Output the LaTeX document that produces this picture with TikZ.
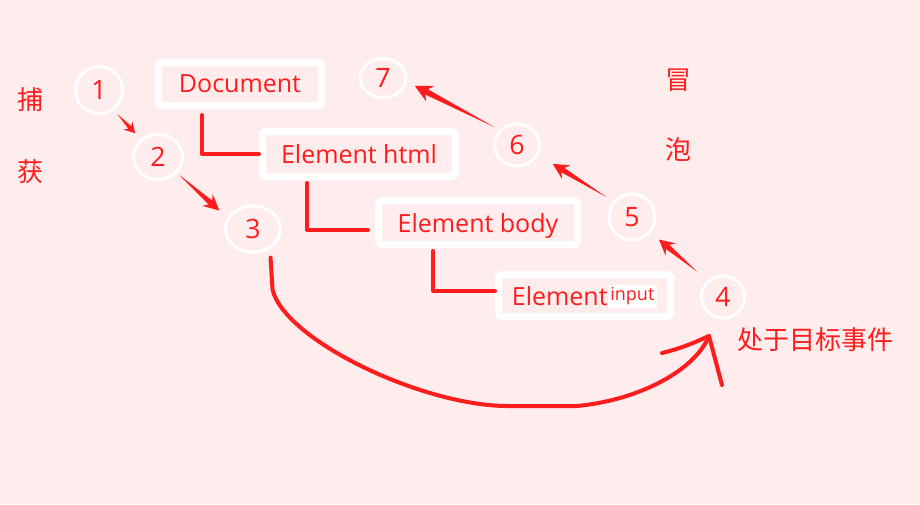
\documentclass[tikz,border=0pt]{standalone}
\usepackage{fontspec}
\setmainfont{Open Sans}
\newfontfamily\cjk{Noto Sans CJK SC}
\usetikzlibrary{shapes.geometric,arrows.meta,calc}

\definecolor{bgpink}{RGB}{255,236,236}
\definecolor{inkred}{RGB}{255,28,28}

\tikzset{every picture/.style={line width=0.75pt}}
\tikzset{
  stepcirc/.style 2 args={ellipse, draw=white, line width=2.25pt, inner sep=0pt,
    minimum width=#1*0.75pt, minimum height=#2*0.75pt,
    text=inkred, font=\fontsize{20}{24}\selectfont},
  treebox/.style 2 args={rectangle, draw=white, line width=5.25pt, rounded corners=2.5pt,
    inner sep=0pt, minimum width=#1*0.75pt, minimum height=#2*0.75pt, text depth=0pt,
    text=inkred, font=\fontsize{18.75}{22}\selectfont},
  treeline/.style={draw=inkred, line width=3pt, line cap=round, line join=round},
  bigstroke/.style={draw=inkred, line width=3pt, line cap=round, line join=round},
  cnlabel/.style={text=inkred, inner sep=0pt, font=\cjk\fontsize{19.5}{22}\selectfont},
}

% tapered arrow: tail, tip, head length, neck distance, head half width, shaft half width
\newcommand\wedgearrow[6]{%
  \coordinate (wbase) at ($(#2)!#3!(#1)$);
  \coordinate (wneck) at ($(#2)!#4!(#1)$);
  \fill[inkred] (#1) -- ($(wneck)!#6!90:(#2)$) -- ($(wbase)!#5!90:(#2)$) -- (#2)
    -- ($(wbase)!#5!-90:(#2)$) -- ($(wneck)!#6!-90:(#2)$) -- cycle;
}

\begin{document}
\begin{tikzpicture}[x=0.75pt,y=0.75pt,yscale=-1,xscale=1]
\fill[bgpink] (0,0) rectangle (920,504);
\useasboundingbox (0,0) rectangle (920,504);

%Shape: Ellipse (steps)
\draw (99,90) node [stepcirc={47}{47}] (c1) {1};
\draw (158,157) node [stepcirc={49}{45}] (c2) {2};
\draw (253,229) node [stepcirc={55}{46}] (c3) {3};
\draw (723,297) node [stepcirc={43}{42}] (c4) {4};
\draw (632,217) node [stepcirc={46}{46}] (c5) {5};
\draw (517,145) node [stepcirc={45}{42}] (c6) {6};
\draw (383,78) node [stepcirc={46}{39}] (c7) {7};

%Shape: Rectangle (tree)
\draw (240,84) node [treebox={163}{43}] (doc) {Document};
\draw (359,154) node [treebox={193}{45}] (html) {Element html};
\draw (478,222.5) node [treebox={199}{44}] (body) {Element body};
\draw (584.5,295.5) node [treebox={172}{42}] (inp) {Element\raisebox{3.75pt}{\fboxsep=2pt\colorbox{white}{\fontsize{13.5}{16}\selectfont input}}};

%Straight Lines (tree)
\draw [treeline] (doc.south west) ++(47,6) |- (html.west);
\draw [treeline, shorten >=5.25pt] (html.south west) ++(48,3) |- (body.184);
\draw [treeline] (body.south west) ++(58,3) |- (inp.177);

%Straight Lines (capture)
\coordinate (a12) at ($(c1.-54)!4pt!(c2.134)$);
\coordinate (b12) at ($(c2.134)!6pt!(c1.-54)$);
\wedgearrow{a12}{b12}{8pt}{6pt}{4.5pt}{1.5pt}
\coordinate (a23) at ($(c2.-40)!1.5pt!(c3.156)$);
\coordinate (b23) at ($(c3.156)!8pt!(c2.-40)$);
\wedgearrow{a23}{b23}{12pt}{9pt}{6pt}{2pt}

%Straight Lines (bubble)
\coordinate (a45) at ($(c4.133)!10pt!(c5.-40)$);
\coordinate (b45) at ($(c5.-40)!8pt!(c4.133)$);
\wedgearrow{a45}{b45}{11.5pt}{8.5pt}{6pt}{2pt}
\coordinate (a56) at ($(c5.140)!6pt!(c6.-25)$);
\coordinate (b56) at ($(c6.-25)!12.5pt!(c5.140)$);
\wedgearrow{a56}{b56}{12pt}{9pt}{6pt}{2pt}
\coordinate (a67) at ($(c6.139)!4pt!(c7.-9)$);
\coordinate (b67) at ($(c7.-9)!6.5pt!(c6.139)$);
\wedgearrow{a67}{b67}{13pt}{10pt}{6.5pt}{2.2pt}

%Curve Lines (target)
\coordinate (tip4) at (709,336);
\draw [bigstroke] (c3.-58) ++(4,7) -- ++(2,32) .. controls +(12,50) and +(-86,-1) .. (506,406) -- (577,406) .. controls +(63,-6) and +(-14,34) .. (tip4);
\draw [bigstroke] (tip4) ++(-47,17) .. controls +(20,-5) and +(-18,8) .. (tip4) -- ++(13,49);

% Text Node
\draw (30,100) node [cnlabel] (cap1) {捕};
% Text Node
\draw (30,172) node [cnlabel] (cap2) {获};
% Text Node
\draw (678,80) node [cnlabel] (bub1) {冒};
% Text Node
\draw (678,150) node [cnlabel] (bub2) {泡};
% Text Node
\draw (815.5,340) node [cnlabel] (target) {处于目标事件};

\end{tikzpicture}
\end{document}
